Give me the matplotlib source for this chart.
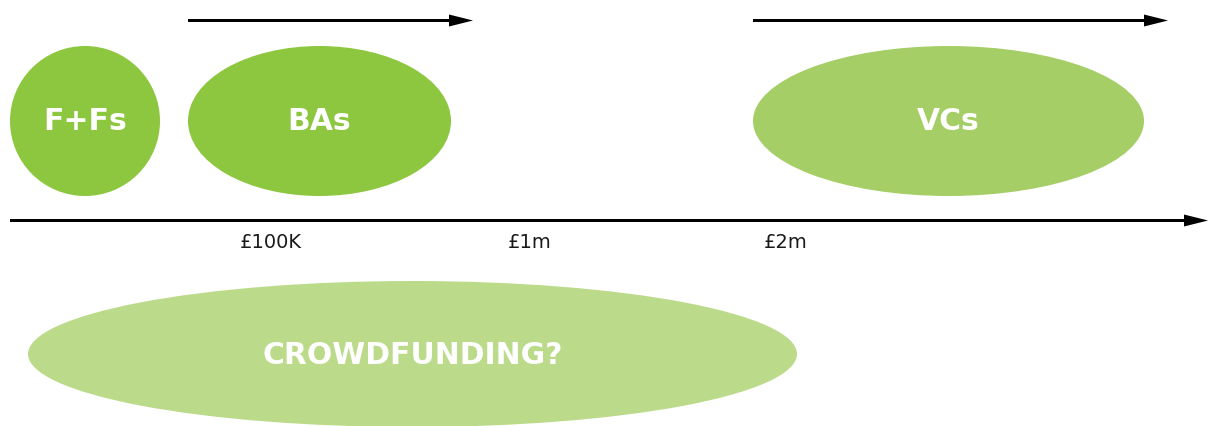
import matplotlib.pyplot as plt
from matplotlib.patches import Ellipse, FancyArrow

# funding sources (pixel layout of the diagram)
names = ['F+Fs', 'BAs', 'VCs', 'CROWDFUNDING?']
cx = [85, 319.5, 948.5, 412.5]
cy = [121, 121, 121, 354]
widths = [150, 263, 391, 769]
heights = [150, 150, 150, 146]
colors = ['#8dc63f', '#8dc63f', '#a6ce66', '#bbdb8b']
font_sizes = [21.5, 21.5, 21.5, 21.5]

# money scale
tick_labels = ['£100K', '£1m', '£2m']
tick_x = [271, 530, 786]

# arrows: (x_start, x_end, y)
arrows = [(188, 473, 20.5), (753, 1168, 20.5), (10, 1208, 220.5)]

fig = plt.figure(figsize=(12.08, 4.26), dpi=100)
ax = fig.add_axes([0, 0, 1, 1])
ax.set_xlim(0, 1208)
ax.set_ylim(426, 0)
ax.axis('off')

for n, x, y, w, h, c, fs in zip(names, cx, cy, widths, heights, colors, font_sizes):
    ax.add_patch(Ellipse((x, y), w, h, facecolor=c, edgecolor='none'))
    ax.text(x, y + 1, n, color='white', fontsize=fs, fontweight='bold',
            family='DejaVu Sans', ha='center', va='center')

for x0, x1, y in arrows:
    ax.add_patch(FancyArrow(x0, y, x1 - x0, 0, width=3, head_width=12,
                            head_length=24, length_includes_head=True,
                            color='black', lw=0))

for t, x in zip(tick_labels, tick_x):
    ax.text(x, 243, t, color='#1a1a1a', fontsize=14, family='DejaVu Sans',
            ha='center', va='center')

fig.savefig('out.png', dpi=100)
